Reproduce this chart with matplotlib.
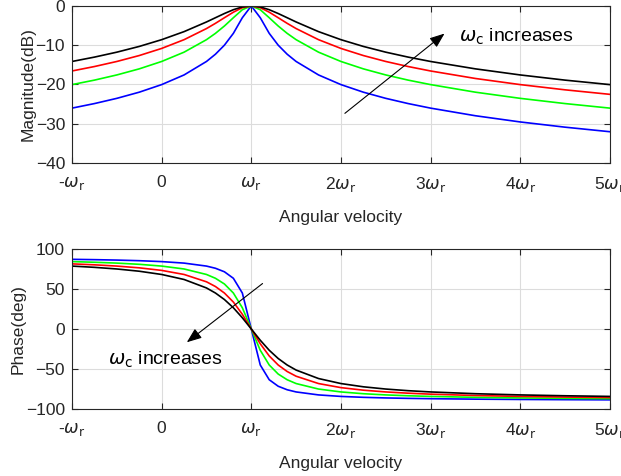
import matplotlib
matplotlib.use("Agg")
import matplotlib.pyplot as plt

# ================= DATA =================
# x axis in multiples of omega_r
freq = [-1, -0.75, -0.5, -0.25, 0, 0.25, 0.5, 0.6, 0.7, 0.8, 0.9, 1.0,
        1.1, 1.2, 1.3, 1.4, 1.5, 1.75, 2, 2.25, 2.5, 2.75, 3, 3.5, 4, 4.5, 5]

# magnitude (dB), one list per omega_c (small -> large)
mag_blue = [-26.03, -24.87, -23.54, -21.97, -20.04, -17.58, -14.15, -12.30, -10.00, -6.99, -3.01, 0,
            -3.01, -6.99, -10.00, -12.30, -14.15, -17.58, -20.04, -21.97, -23.54, -24.87, -26.03,
            -27.97, -29.55, -30.88, -32.04]
mag_green = [-20.04, -18.90, -17.58, -16.03, -14.15, -11.78, -8.60, -6.99, -5.12, -3.01, -0.97, 0,
             -0.97, -3.01, -5.12, -6.99, -8.60, -11.78, -14.15, -16.03, -17.58, -18.90, -20.04,
             -21.97, -23.54, -24.87, -26.03]
mag_red = [-16.57, -15.44, -14.15, -12.64, -10.83, -8.60, -5.77, -4.44, -3.01, -1.60, -0.46, 0,
           -0.46, -1.60, -3.01, -4.44, -5.77, -8.60, -10.83, -12.64, -14.15, -15.44, -16.57,
           -18.48, -20.04, -21.37, -22.52]
mag_black = [-14.15, -13.04, -11.78, -10.32, -8.60, -6.55, -4.09, -3.01, -1.94, -0.97, -0.26, 0,
             -0.26, -0.97, -1.94, -3.01, -4.09, -6.55, -8.60, -10.32, -11.78, -13.04, -14.15,
             -16.03, -17.58, -18.90, -20.04]

# phase (deg)
ph_blue = [87.14, 86.73, 86.19, 85.43, 84.29, 82.41, 78.69, 75.96, 71.57, 63.43, 45.0, 0,
           -45.0, -63.43, -71.57, -75.96, -78.69, -82.41, -84.29, -85.43, -86.19, -86.73, -87.14,
           -87.71, -88.09, -88.36, -88.57]
ph_green = [84.29, 83.48, 82.41, 80.91, 78.69, 75.07, 68.20, 63.43, 56.31, 45.0, 26.57, 0,
            -26.57, -45.0, -56.31, -63.43, -68.20, -75.07, -78.69, -80.91, -82.41, -83.48, -84.29,
            -85.43, -86.19, -86.73, -87.14]
ph_red = [81.47, 80.27, 78.69, 76.50, 73.30, 68.20, 59.04, 53.13, 45.0, 33.69, 18.43, 0,
          -18.43, -33.69, -45.0, -53.13, -59.04, -68.20, -73.30, -76.50, -78.69, -80.27, -81.47,
          -83.16, -84.29, -85.10, -85.71]
ph_black = [78.69, 77.13, 75.07, 72.26, 68.20, 61.93, 51.34, 45.0, 36.87, 26.57, 14.04, 0,
            -14.04, -26.57, -36.87, -45.0, -51.34, -61.93, -68.20, -72.26, -75.07, -77.13, -78.69,
            -80.91, -82.41, -83.48, -84.29]

xticks = [-1, 0, 1, 2, 3, 4, 5]
xticklabels = [r'-$\omega_{\rm r}$', '0', r'$\omega_{\rm r}$', r'2$\omega_{\rm r}$',
               r'3$\omega_{\rm r}$', r'4$\omega_{\rm r}$', r'5$\omega_{\rm r}$']

# ================= STYLE =================
plt.rcParams['font.family'] = ['Liberation Sans', 'DejaVu Sans']
plt.rcParams['mathtext.fontset'] = 'dejavusans'
fs = 12.5
grey = '#262626'

fig = plt.figure(figsize=(6.21, 4.76), dpi=100)
ax1 = fig.add_axes([0.116, 0.6576, 0.866, 0.330])
ax2 = fig.add_axes([0.116, 0.1408, 0.866, 0.336])

series_mag = [mag_blue, mag_green, mag_red, mag_black]
series_ph = [ph_blue, ph_green, ph_red, ph_black]
colors = ['#0000ff', '#00ff00', '#ff0000', '#000000']

for m, p, c in zip(series_mag, series_ph, colors):
    ax1.plot(freq, m, color=c, lw=1.2)
    ax2.plot(freq, p, color=c, lw=1.2)

def style(ax):
    ax.set_xlim(-1, 5)
    ax.set_xticks(xticks)
    ax.set_xticklabels(xticklabels)
    ax.grid(True, color='#dcdcdc', lw=0.8)
    ax.set_axisbelow(True)
    ax.tick_params(direction='in', top=True, right=True, length=4,
                   colors=grey, labelsize=fs, pad=5)
    ax.tick_params(axis='x', pad=9)
    for s in ax.spines.values():
        s.set_color(grey)
        s.set_linewidth(0.8)
    ax.set_xlabel('Angular velocity', color=grey, fontsize=fs, labelpad=11)

style(ax1)
ax1.set_ylim(-40, 0)
ax1.set_yticks([-40, -30, -20, -10, 0])
ax1.set_ylabel('Magnitude(dB)', color=grey, fontsize=fs, labelpad=0)

style(ax2)
ax2.set_ylim(-100, 100)
ax2.set_yticks([-100, -50, 0, 50, 100])
ax2.set_ylabel('Phase(deg)', color=grey, fontsize=fs, labelpad=0)

# arrows + notes
arrow = dict(arrowstyle='-|>,head_length=0.9,head_width=0.35', color='black', lw=0.8)
ax1.annotate('', xy=(3.18, -6.6), xytext=(2.02, -27.8), arrowprops=arrow)
ax1.text(3.32, -8.0, r'$\omega_{\rm c}$ increases', fontsize=14, va='center', ha='left')

ax2.annotate('', xy=(0.256, -18.7), xytext=(1.15, 59), arrowprops=arrow)
ax2.text(-0.6, -38.5, r'$\omega_{\rm c}$ increases', fontsize=14, va='center', ha='left')

fig.savefig('out.png', dpi=100)
